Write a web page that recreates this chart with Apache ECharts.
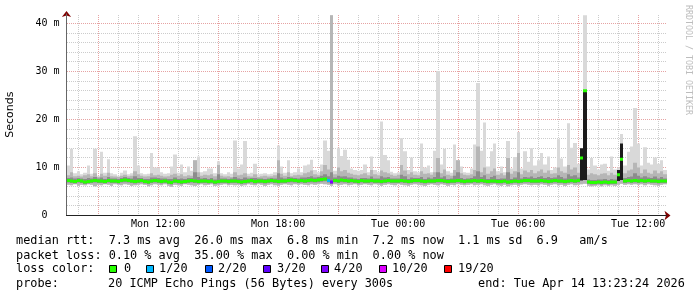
<!DOCTYPE html>
<html><head><meta charset="utf-8">
<script src="https://cdn.jsdelivr.net/npm/echarts@6/dist/echarts.min.js"></script>
<style>html,body{margin:0;padding:0;background:#fff}#c{width:697px;height:297px}</style>
</head><body><div id="c"></div>
<script>
// time axis: minutes since Mon 00:00
const START_MIN = 445;   // Mon 07:25
const END_MIN = 2245;    // Tue 13:25
const STEP_MIN = 10;
const dayNames = ['Mon', 'Tue'];
const yTickValues = [0, 10, 20, 30, 40];
const Y_MAX = 42;

// smoke: lowest ping (ms)
const smokeLow = [
 6.4,6.3,6.5,6.2,6.4,6.3,6.5,6.4,6.1,6.4, 6.3,6.5,6.4,6.2,6.5,6.4,6.3,6.5,6.4,6.2,
 6.3,6.4,6.5,6.4,6.1,6.3,6.5,6.4,6.3,6.5, 6.2,6.0,6.4,6.3,6.2,6.5,6.4,6.3,6.2,6.4,
 6.5,6.3,6.4,6.5,6.2,6.3,6.4,6.5,6.3,6.4, 6.3,6.4,6.2,6.3,6.5,6.4,6.3,6.5,6.4,6.2,
 6.4,6.5,6.3,6.2,6.4,6.5,6.4,6.3,6.5,6.4, 6.5,6.4,6.3,6.5,6.4,6.5,6.6,6.5,6.4,6.2,
 6.5,6.3,6.4,6.5,6.3,6.4,6.5,6.3,6.4,6.5, 6.4,6.3,6.5,6.4,6.2,6.4,6.5,6.4,6.3,6.5,
 6.4,6.3,6.2,6.4,6.5,6.4,6.3,6.2,6.4,6.5, 6.4,6.3,6.5,6.4,6.2,6.4,6.3,6.5,6.4,6.3,
 6.4,6.5,6.3,6.4,6.5,6.3,6.2,6.4,6.5,6.3, 6.2,6.4,6.1,6.3,6.4,6.2,6.4,6.5,6.4,6.3,
 6.4,6.3,6.5,6.4,6.2,6.4,6.5,6.3,6.4,6.2, 6.4,6.5,6.3,6.4,6.5,6.6,6.2,6.1,6.2,6.3,
 6.1,6.3,6.2,6.3,6.2,6.4,6.6,6.4,6.5,6.4, 6.5,6.4,6.5,6.3,6.5,6.4,6.3,6.2,6.4,6.5
];
// smoke: top of dark band (ms)
const smokeDark = [
 7.8,7.9,7.7,7.8,7.7,7.6,7.8,7.7,8.0,7.7, 7.9,7.6,8.0,7.7,7.7,7.6,7.8,8.0,7.8,7.7,
 8.2,7.8,7.8,7.6,7.6,7.9,7.9,7.8,7.7,7.7, 7.6,7.6,7.9,7.6,7.7,7.6,7.8,7.8,9.0,8.0,
 7.7,7.8,7.6,7.8,7.5,8.6,7.7,7.7,7.6,7.7, 8.0,7.7,7.6,7.9,7.7,7.8,7.8,7.7,7.7,7.6,
 7.7,7.8,7.7,8.8,7.9,7.7,8.0,7.9,7.8,7.7, 7.9,7.9,8.0,8.2,7.9,8.0,8.3,8.6,8.2,9.0,
 7.9,8.3,8.1,8.2,7.9,7.9,7.7,7.6,7.8,7.8, 7.7,8.1,7.7,7.7,8.2,7.9,8.0,7.7,7.7,7.7,
 8.5,8.2,7.6,7.9,7.8,7.8,8.0,7.6,7.9,7.7, 8.0,9.0,7.9,8.2,7.6,7.7,8.3,9.0,7.8,7.6,
 7.7,7.8,8.2,9.2,8.0,8.4,7.6,8.0,8.3,7.6, 7.7,7.7,9.0,7.6,7.9,9.0,7.7,8.0,7.9,8.1,
 7.8,8.0,8.2,7.8,8.0,7.8,7.9,8.4,8.0,7.7, 8.6,8.2,8.4,7.9,14.0,26.0,7.5,7.4,7.4,7.5,
 7.5,7.6,7.4,7.6,7.5,9.5,15.0,7.8,8.0,8.1, 8.8,8.3,7.9,8.2,7.9,7.8,8.1,7.7,8.0,7.7
];
// smoke: top of medium band (ms)
const smokeMid = [
 8.4,9.0,8.2,8.3,8.1,8.4,8.6,8.2,8.8,8.0, 8.7,8.3,8.9,8.2,8.1,8.0,8.3,8.5,8.2,8.3,
 9.2,8.6,8.3,8.1,8.2,8.8,8.4,8.5,8.3,8.1, 8.2,8.5,8.7,8.3,8.6,8.2,8.4,8.3,11.5,9.0,
 8.3,8.5,8.4,8.6,8.2,10.5,8.3,8.1,8.2,8.0, 9.0,8.4,8.5,8.8,8.2,8.1,8.6,8.0,8.2,8.3,
 8.1,8.2,8.4,11.5,8.7,8.3,9.0,8.2,8.4,8.5, 8.4,8.8,9.0,9.4,8.6,8.4,9.2,10.5,9.6,41.7,
 8.6,10.0,9.2,9.5,8.9,8.7,8.5,8.4,8.6,8.8, 8.4,9.5,8.6,8.4,9.4,9.0,8.8,8.5,8.3,8.5,
 10.5,9.4,8.6,9.0,8.5,8.4,9.2,8.7,8.8,8.5, 9.0,12.0,8.8,9.6,8.5,8.3,9.5,11.5,8.8,8.5,
 8.4,8.6,9.5,14.4,9.0,10.0,8.7,9.2,9.8,8.5, 8.8,8.4,12.0,8.7,9.2,13.0,8.6,9.4,9.0,9.5,
 8.8,9.2,9.6,8.9,9.4,8.7,8.8,10.0,9.2,8.9, 10.5,9.6,10.0,8.9,9.0,12.0,8.5,8.8,8.6,8.4,
 8.7,8.8,8.4,8.9,8.5,9.0,12.0,8.8,9.4,9.6, 11.0,10.0,8.8,9.6,8.9,8.7,9.4,8.8,9.2,8.6
];
// smoke: highest ping (ms)
const smokeHigh = [
 10.4,13.9,8.8,9.2,8.6,8.9,10.4,8.7,13.9,8.3, 13.3,8.9,11.7,8.8,8.6,8.3,8.9,9.4,8.6,8.8,
 16.5,10.4,8.8,8.6,8.7,13.0,10.0,10.0,9.0,8.7, 8.8,10.2,12.7,8.9,10.6,9.0,10.2,9.3,11.5,12.3,
 9.0,9.2,9.8,9.8,8.8,11.3,8.8,8.6,9.0,8.7, 15.6,9.8,10.6,15.5,8.7,8.9,10.8,8.6,8.7,8.8,
 8.6,8.7,9.0,14.6,10.2,8.9,11.5,8.8,9.0,9.8, 9.0,10.4,10.6,11.6,9.5,9.0,10.6,15.6,13.5,41.7,
 9.3,14.1,12.4,13.7,11.6,9.8,9.5,9.3,9.5,10.6, 9.0,12.3,9.5,9.0,19.6,12.6,11.5,9.1,8.8,9.0,
 16.1,13.4,9.5,12.1,9.2,9.0,15.0,10.0,10.4,9.0, 13.5,30.1,10.6,13.9,9.2,8.9,14.8,11.5,10.2,9.0,
 8.9,9.8,14.8,27.6,13.5,19.4,10.2,13.4,15.0,9.2, 10.2,9.0,15.5,9.8,12.2,17.4,9.8,13.4,11.2,14.0,
 10.4,11.5,13.0,10.6,12.3,9.5,10.0,15.9,11.9,10.2, 19.2,14.1,15.1,10.8,14.0,41.7,9.6,12.0,10.4,9.6,
 10.6,10.8,9.3,12.3,9.6,10.0,17.0,10.4,13.3,14.4, 22.4,15.0,10.4,14.2,11.0,10.6,12.1,10.8,11.5,9.5
];
// median rtt (ms)
const medianRtt = [
 7.3,7.2,7.1,7.3,7.2,7.0,7.1,7.2,7.3,7.2, 7.2,7.1,7.3,7.2,7.2,7.1,7.3,7.4,7.3,7.2,
 7.1,7.2,7.3,7.1,7.0,7.2,7.3,7.2,7.1,7.2, 7.0,6.9,7.2,7.1,7.0,7.1,7.2,7.3,7.2,7.1,
 7.2,7.2,7.1,7.2,7.0,7.1,7.2,7.2,7.1,7.2, 7.2,7.1,7.0,7.1,7.2,7.3,7.1,7.2,7.2,7.1,
 7.2,7.3,7.2,7.1,7.2,7.2,7.3,7.4,7.3,7.2, 7.3,7.2,7.3,7.4,7.3,7.4,7.5,7.6,7.3,7.0,
 7.3,7.2,7.4,7.3,7.2,7.3,7.2,7.1,7.3,7.2, 7.2,7.3,7.2,7.2,7.1,7.2,7.3,7.2,7.2,7.2,
 7.3,7.2,7.1,7.2,7.3,7.3,7.2,7.1,7.2,7.2, 7.2,7.3,7.3,7.2,7.1,7.2,7.2,7.3,7.2,7.1,
 7.2,7.2,7.3,7.2,7.3,7.2,7.1,7.2,7.2,7.1, 7.1,7.2,7.0,7.1,7.2,7.1,7.2,7.3,7.3,7.2,
 7.2,7.2,7.3,7.2,7.1,7.2,7.3,7.2,7.2,7.1, 7.2,7.3,7.2,7.3,12.0,26.0,7.0,6.9,6.9,7.0,
 6.9,7.0,6.9,7.0,7.0,8.5,11.7,7.2,7.3,7.2, 7.3,7.2,7.3,7.2,7.3,7.2,7.2,7.1,7.2,7.2
];
// lost pings out of 20 per step
const lostPings = [
 0,0,0,0,0,0,0,0,0,0, 0,0,0,0,0,0,0,0,0,0,
 0,0,0,0,0,0,0,0,0,0, 0,0,0,0,0,0,0,0,0,0,
 0,0,0,0,0,0,0,0,0,0, 0,0,0,0,0,0,0,0,0,0,
 0,0,0,0,0,0,0,0,0,0, 0,0,0,0,0,0,0,0,1,7,
 0,0,0,0,0,0,0,0,0,0, 0,0,0,0,0,0,0,0,0,0,
 0,0,0,0,0,0,0,0,0,0, 0,0,0,0,0,0,0,0,0,0,
 0,0,0,0,0,0,0,0,0,0, 0,0,0,0,0,0,0,0,0,0,
 0,0,0,0,0,0,0,0,0,0, 0,0,0,0,0,0,0,0,0,0,
 0,0,0,0,0,0,0,0,0,0, 0,0,0,0,0,0,0,0,0,0
];
const lossThresholds = [0, 1, 2, 3, 4, 10, 19];
const lossLabels = ['0', '1/20', '2/20', '3/20', '4/20', '10/20', '19/20'];
const lossColors = ['#26ff00', '#00b8ff', '#0059ff', '#5e00ff', '#7e00ff', '#dd00ff', '#ff0000'];
const legendLines = [
  'median rtt:  7.3 ms avg  26.0 ms max  6.8 ms min  7.2 ms now  1.1 ms sd  6.9   am/s',
  'packet loss: 0.10 % avg  35.00 % max  0.00 % min  0.00 % now'
];
const probeText = '20 ICMP Echo Pings (56 Bytes) every 300s';
const endText = 'end: Tue Apr 14 13:23:24 2026';

function lossColor(n) {
  let c = lossColors[0];
  for (let k = 0; k < lossThresholds.length; k++) if (n >= lossThresholds[k]) c = lossColors[k];
  return c;
}

const smokeData = medianRtt.map((m, i) => [START_MIN + i * STEP_MIN, smokeLow[i], smokeMid[i], smokeHigh[i], smokeDark[i], m, lostPings[i]]);

// grid lines (values on the axes)
const gridData = [];
for (let h = Math.ceil(START_MIN / 60) * 60; h < END_MIN; h += 60) gridData.push([h, 1, h % 180 === 0 ? 1 : 0]);
for (let v = 2; v < Y_MAX; v += 2) gridData.push([v, 0, v % 10 === 0 ? 1 : 0]);

function renderGrid(params, api) {
  const v = api.value(0), vertical = api.value(1) === 1, major = api.value(2) === 1;
  let shape;
  if (vertical) {
    const a = api.coord([v, 0]), b = api.coord([v, Y_MAX]);
    const x = Math.floor(a[0]) + 0.5;
    shape = { x1: x, y1: Math.round(a[1]), x2: x, y2: Math.round(b[1]) };
  } else {
    const a = api.coord([START_MIN, v]), b = api.coord([END_MIN, v]);
    const y = Math.floor(a[1]) + 0.5;
    shape = { x1: Math.round(a[0]), y1: y, x2: Math.round(b[0]), y2: y };
  }
  return { type: 'line', shape, style: { stroke: major ? '#e6a3a3' : '#cccccc', lineWidth: 1, lineDash: [1, 1], lineDashOffset: 0 } };
}

function renderSmoke(params, api) {
  const t0 = api.value(0), lo = api.value(1), mid = api.value(2), hi = api.value(3), dk = api.value(4), med = api.value(5), loss = api.value(6);
  const xa = Math.round(api.coord([t0, 0])[0]);
  const xb = Math.round(api.coord([t0 + STEP_MIN, 0])[0]);
  const w = xb - xa;
  const Y = v => api.coord([t0, v])[1];
  const dBottom = Math.min(med - 0.45, lo + 0.8);
  const ym = Y(med) - 1.5;
  return {
    type: 'group',
    children: [
      { type: 'rect', shape: { x: xa, y: Y(hi), width: w, height: Y(lo) - Y(hi) }, style: { fill: '#d9d9d9' } },
      { type: 'rect', shape: { x: xa, y: Y(mid), width: w, height: Y(lo) - Y(mid) }, style: { fill: '#b6b6b6' } },
      { type: 'rect', shape: { x: xa, y: Y(dk), width: w, height: Y(dBottom) - Y(dk) }, style: { fill: (dk - lo > 3) ? '#1c1c1c' : '#8c8c8c' } },
      { type: 'rect', shape: { x: xa, y: ym, width: w, height: 3 }, style: { fill: lossColor(loss) } }
    ]
  };
}

function fmtTime(v) {
  const r = Math.round(v);
  if (r % 360 !== 0) return '';
  const hh = Math.floor((r % 1440) / 60);
  return dayNames[Math.floor(r / 1440)] + ' ' + String(hh).padStart(2, '0') + ':00';
}

const mono = 'DejaVu Sans Mono';
const graphics = [];
legendLines.forEach((t, k) => graphics.push({ type: 'text', x: 16, y: [241, 255.7][k], style: { text: t, fontFamily: mono, fontSize: 11.85, fill: '#000', verticalAlign: 'middle' } }));
graphics.push({ type: 'text', x: 16, y: 269.3, style: { text: 'loss color:', fontFamily: mono, fontSize: 11.85, fill: '#000', verticalAlign: 'middle' } });
const swatchX = [109, 146, 205, 263, 321, 379, 444];
const swatchLabelX = [124, 159, 218, 277, 334, 392, 458];
lossColors.forEach((c, k) => {
  graphics.push({ type: 'rect', shape: { x: swatchX[k] + 0.5, y: 265.5, width: 7, height: 7 }, style: { fill: c, stroke: '#000', lineWidth: 1 } });
  graphics.push({ type: 'text', x: swatchLabelX[k], y: 269.3, style: { text: lossLabels[k], fontFamily: mono, fontSize: 11.85, fill: '#000', verticalAlign: 'middle' } });
});
graphics.push({ type: 'text', x: 16, y: 284, style: { text: 'probe:', fontFamily: mono, fontSize: 11.85, fill: '#000', verticalAlign: 'middle' } });
graphics.push({ type: 'text', x: 108, y: 284, style: { text: probeText, fontFamily: mono, fontSize: 11.85, fill: '#000', verticalAlign: 'middle' } });
graphics.push({ type: 'text', x: 478, y: 284, style: { text: endText, fontFamily: mono, fontSize: 11.85, fill: '#000', verticalAlign: 'middle' } });
graphics.push({ type: 'text', x: 688, y: 5, rotation: -Math.PI / 2, style: { text: 'RRDTOOL / TOBI OETIKER', fontFamily: mono, fontSize: 8.3, fill: '#bdbdbd', align: 'left', verticalAlign: 'middle' } });

const chart = echarts.init(document.getElementById('c'), null, { renderer: 'canvas' });
chart.setOption({
  backgroundColor: '#ffffff',
  animation: false,
  grid: { left: 66.5, right: 30.5, top: 13.9, bottom: 81.5, containLabel: false, outerBoundsMode: 'none' },
  xAxis: [
    { type: 'value', position: 'bottom', min: START_MIN, max: END_MIN, interval: 5, z: 10,
      axisLine: { show: true, onZero: false, lineStyle: { color: '#222', width: 1 } },
      axisTick: { show: false }, splitLine: { show: false },
      axisLabel: { margin: 4, fontFamily: mono, fontSize: 10, color: '#000', formatter: fmtTime } },
    { type: 'value', position: 'bottom', min: START_MIN, max: END_MIN, z: 9,
      axisLine: { show: true, onZero: false, symbol: ['none', 'arrow'], symbolSize: [7, 6], symbolOffset: [0, 4], lineStyle: { color: '#7f0000', width: 1 } },
      axisTick: { show: false }, splitLine: { show: false }, axisLabel: { show: false } }
  ],
  yAxis: [
    { type: 'value', position: 'left', min: 0, max: Y_MAX, interval: 10, z: 10,
      axisLine: { show: true, onZero: false, lineStyle: { color: '#666', width: 1 } },
      axisTick: { show: false }, splitLine: { show: false },
      axisLabel: { margin: 7, fontFamily: mono, fontSize: 10, color: '#000',
        formatter: v => yTickValues.includes(v) ? (v === 0 ? '0  ' : v + ' m') : '' },
      name: 'Seconds', nameLocation: 'middle', nameGap: 51,
      nameTextStyle: { fontFamily: 'DejaVu Sans', fontSize: 11, color: '#000' } },
    { type: 'value', position: 'left', min: 0, max: Y_MAX, z: 9,
      axisLine: { show: true, onZero: false, symbol: ['none', 'arrow'], symbolSize: [7, 6], symbolOffset: [0, 3], lineStyle: { color: '#7f0000', width: 1 } },
      axisTick: { show: false }, splitLine: { show: false }, axisLabel: { show: false } }
  ],
  series: [
    { type: 'custom', name: 'grid', z: 1, silent: true, clip: true, renderItem: renderGrid, data: gridData },
    { type: 'custom', name: 'smoke', z: 2, silent: true, clip: true, renderItem: renderSmoke, data: smokeData }
  ],
  graphic: graphics
});
</script></body></html>
